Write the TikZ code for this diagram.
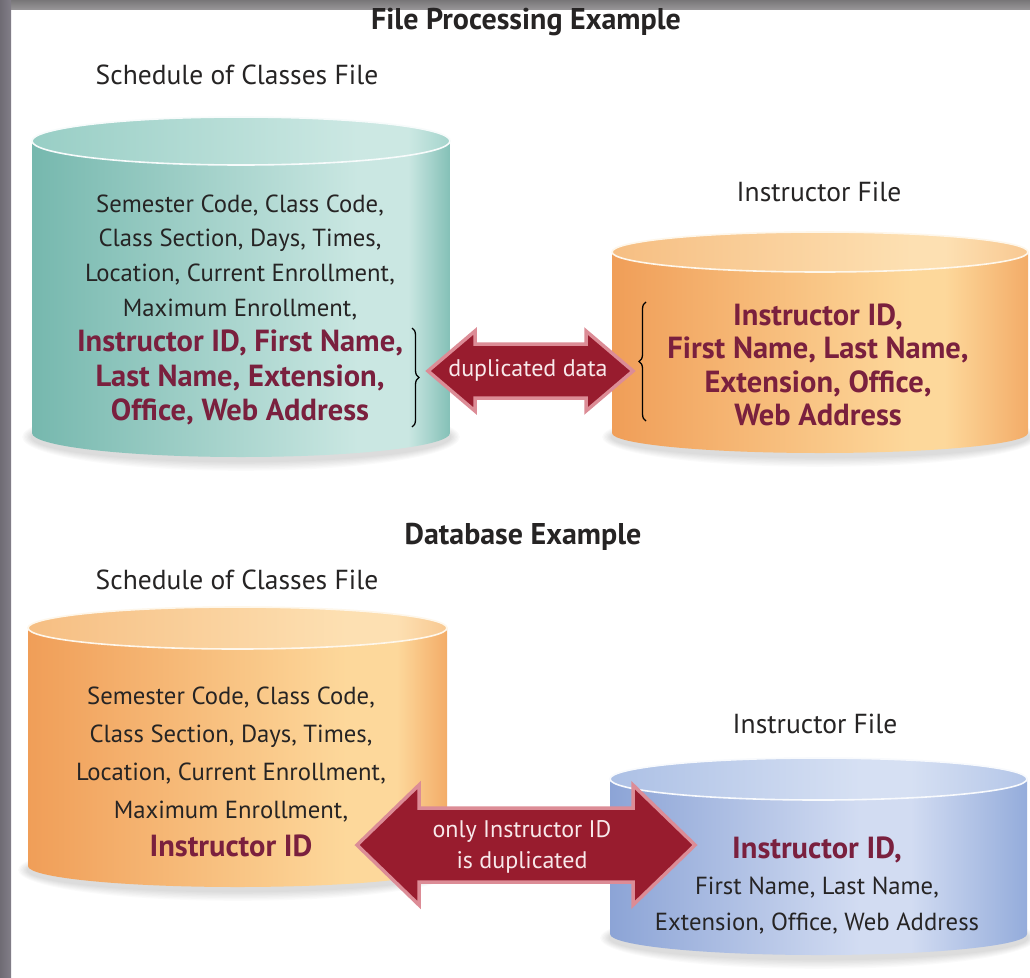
\documentclass[tikz,border=0pt]{standalone}
\usepackage{fontspec}
\setmainfont{PT Sans}
\usetikzlibrary{decorations.pathreplacing}

\definecolor{txtdark}{RGB}{38,36,36}
\definecolor{txtred}{RGB}{122,32,62}
\definecolor{arrowred}{RGB}{152,28,46}
\definecolor{arrowedge}{RGB}{220,140,150}
\definecolor{arrowtext}{RGB}{248,232,234}
\definecolor{bandgray}{RGB}{130,126,136}
\definecolor{bandtop}{RGB}{150,148,150}

\definecolor{tealL}{RGB}{118,184,174}
\definecolor{tealM}{RGB}{202,231,226}
\definecolor{tealR}{RGB}{132,192,183}
\definecolor{tealTL}{RGB}{152,206,197}
\definecolor{tealTM}{RGB}{204,232,227}
\definecolor{tealTR}{RGB}{164,212,204}

\definecolor{orL}{RGB}{240,158,88}
\definecolor{orM}{RGB}{253,216,155}
\definecolor{orR}{RGB}{243,172,104}
\definecolor{orTL}{RGB}{246,190,130}
\definecolor{orTM}{RGB}{253,224,178}
\definecolor{orTR}{RGB}{248,200,145}

\definecolor{blL}{RGB}{140,164,214}
\definecolor{blM}{RGB}{210,220,242}
\definecolor{blR}{RGB}{148,172,219}
\definecolor{blTL}{RGB}{172,192,229}
\definecolor{blTM}{RGB}{214,224,243}
\definecolor{blTR}{RGB}{180,198,232}

\pgfdeclarehorizontalshading{tealbody}{100bp}{color(0bp)=(tealL); color(25bp)=(tealL); color(64bp)=(tealM); color(70bp)=(tealM); color(75bp)=(tealR); color(100bp)=(tealR)}
\pgfdeclarehorizontalshading{tealtop}{100bp}{color(0bp)=(tealTL); color(25bp)=(tealTL); color(64bp)=(tealTM); color(70bp)=(tealTM); color(75bp)=(tealTR); color(100bp)=(tealTR)}
\pgfdeclarehorizontalshading{orbodyA}{100bp}{color(0bp)=(orL); color(25bp)=(orL); color(61bp)=(orM); color(65bp)=(orM); color(75bp)=(orR); color(100bp)=(orR)}
\pgfdeclarehorizontalshading{ortopA}{100bp}{color(0bp)=(orTL); color(25bp)=(orTL); color(61bp)=(orTM); color(65bp)=(orTM); color(75bp)=(orTR); color(100bp)=(orTR)}
\pgfdeclarehorizontalshading{orbodyB}{100bp}{color(0bp)=(orL); color(25bp)=(orL); color(63bp)=(orM); color(69bp)=(orM); color(75bp)=(orR); color(100bp)=(orR)}
\pgfdeclarehorizontalshading{ortopB}{100bp}{color(0bp)=(orTL); color(25bp)=(orTL); color(63bp)=(orTM); color(69bp)=(orTM); color(75bp)=(orTR); color(100bp)=(orTR)}
\pgfdeclarehorizontalshading{blbody}{100bp}{color(0bp)=(blL); color(25bp)=(blL); color(55bp)=(blM); color(61bp)=(blM); color(75bp)=(blR); color(100bp)=(blR)}
\pgfdeclarehorizontalshading{bltop}{100bp}{color(0bp)=(blTL); color(25bp)=(blTL); color(55bp)=(blTM); color(61bp)=(blTM); color(75bp)=(blTR); color(100bp)=(blTR)}

\tikzset{
  hdr/.style={font=\bfseries\fontsize{30}{32}\selectfont, text=txtdark, inner sep=0pt},
  lbl/.style={font=\fontsize{27.5}{30}\selectfont, text=txtdark, inner sep=0pt},
  field/.style={font=\fontsize{24.7}{34.8}\selectfont, text=txtdark, align=center, inner sep=0pt},
  fieldB/.style={font=\fontsize{24.7}{38}\selectfont, text=txtdark, align=center, inner sep=0pt},
  arrowtxt/.style={font=\fontsize{24}{31}\selectfont, text=arrowtext, align=center, inner sep=0pt},
  bigarrow/.style={fill=arrowred, draw=arrowedge, line width=3.5pt, line join=miter},
  rim/.style={line width=1.6pt},
  bracestyle/.style={decorate, decoration={brace, amplitude=7pt}, line width=1.3pt, draw=black},
}
\newcommand\hiline[1]{{\bfseries\fontsize{30.5}{34.8}\selectfont\color{txtred}#1}}
\newcommand\hilineB[1]{{\bfseries\fontsize{30.5}{38}\selectfont\color{txtred}#1}}

% cx, rx, top cy, bottom cy, ry, body shading, top shading, rim colour
\newcommand\drawcyl[8]{%
  \foreach \k in {1,...,7}{
    \fill[black, opacity=0.018] (#1,#4+4) ellipse [x radius=#2+\k*1.4, y radius=#5+\k*1.4];
  }
  \shade[shading=#6] ({#1-#2},#3) -- ({#1-#2},#4)
     arc [start angle=180, end angle=0, x radius=#2, y radius=#5] -- ({#1+#2},#3) -- cycle;
  \shade[shading=#7] (#1,#3) ellipse [x radius=#2, y radius=#5];
  \draw[rim, #8] (#1,#3) ellipse [x radius=#2, y radius=#5];
}

% x1, x2, cy, shaft half, head half, head length
\newcommand\dblarrow[6]{%
  \draw[bigarrow] (#1,#3) -- ({#1+#6},{#3-#5}) -- ({#1+#6},{#3-#4}) -- ({#2-#6},{#3-#4})
    -- ({#2-#6},{#3-#5}) -- (#2,#3) -- ({#2-#6},{#3+#5}) -- ({#2-#6},{#3+#4})
    -- ({#1+#6},{#3+#4}) -- ({#1+#6},{#3+#5}) -- cycle;
}

\begin{document}
\begin{tikzpicture}[x=1pt,y=-1pt]
\useasboundingbox (0,0) rectangle (1030,977);
\fill[white] (0,0) rectangle (1030,977);
% frame bands
\shade[top color=bandtop!80!black, bottom color=bandtop] (0,0) rectangle (1030,9);
\shade[left color=bandgray!85!black, right color=bandgray] (0,0) rectangle (11,977);

% cylinders
\drawcyl{241}{209}{141}{433}{24}{tealbody}{tealtop}{white!85!tealM}
\drawcyl{820}{208}{252}{433}{20}{orbodyA}{ortopA}{white!80!orM}
\drawcyl{237.5}{209.5}{628}{866}{21}{orbodyB}{ortopB}{white!80!orM}
\drawcyl{818.5}{208.5}{779}{934}{21}{blbody}{bltop}{white!85!blM}

% headings
\node[hdr] (title1) at (526,22) {File Processing Example};
\node[lbl] (sched1) at (237,75) {Schedule of Classes File};
\node[lbl] (instr1) at (819,192) {Instructor File};
\node[hdr] (title2) at (523,537) {Database Example};
\node[lbl] (sched2) at (237,580) {Schedule of Classes File};
\node[lbl] (instr2) at (815,724) {Instructor File};

% field lists
\node[field] (fields1) at (240,310) {Semester Code, Class Code,\\
  Class Section, Days, Times,\\
  Location, Current Enrollment,\\
  Maximum Enrollment,\\
  \hiline{Instructor ID, First Name,}\\
  \hiline{Last Name, Extension,}\\
  \hiline{Office, Web Address}};

\node[field, font=\bfseries\fontsize{30.5}{33.5}\selectfont, text=txtred] (fields2) at (818,365)
  {Instructor ID,\\ First Name, Last Name,\\ Extension, Office,\\ Web Address};

\node[fieldB] (fields3) at (231,772) {Semester Code, Class Code,\\
  Class Section, Days, Times,\\
  Location, Current Enrollment,\\
  Maximum Enrollment,\\
  \hilineB{Instructor ID}};

\node[field, font=\fontsize{24.7}{36}\selectfont] (fields4) at (817,885)
  {\hilineB{Instructor ID,}\\ First Name, Last Name,\\ Extension, Office, Web Address};

% braces
\coordinate (b1top) at (412,328);
\coordinate (b1bot) at (412,427);
\draw[bracestyle] (b1top) -- (b1bot);
\coordinate (b2top) at (646,302);
\coordinate (b2bot) at (646,421);
\draw[bracestyle] (b2bot) -- (b2top);

% arrows
\dblarrow{428}{633}{371}{27}{40}{47}
\node[arrowtxt] (dup1) at (528,370) {duplicated data};
\dblarrow{357}{695}{845}{37}{60}{62}
\node[arrowtxt] (dup2) at (522,847) {only Instructor ID\\ is duplicated};
\end{tikzpicture}
\end{document}
